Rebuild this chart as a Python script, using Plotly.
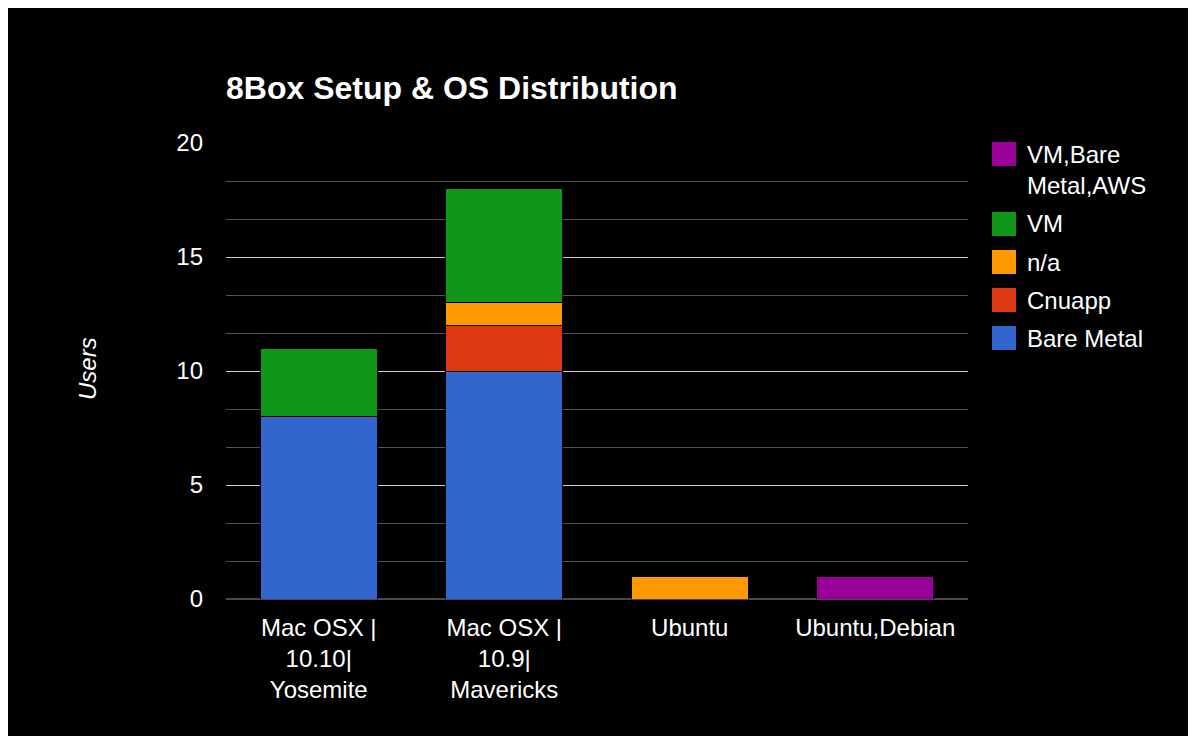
import plotly.graph_objects as go

categories = ["Mac OSX |<br>10.10|<br>Yosemite", "Mac OSX |<br>10.9|<br>Mavericks", "Ubuntu", "Ubuntu,Debian"]
series_names = ["Bare Metal", "Cnuapp", "n/a", "VM", "VM,Bare Metal,AWS"]
bare_metal = [8, 10, 0, 0]
cnuapp = [0, 2, 0, 0]
na = [0, 1, 1, 0]
vm = [3, 5, 0, 0]
vm_bm_aws = [0, 0, 0, 1]
colors = ["#3366cc", "#dc3912", "#ff9900", "#109618", "#990099"]
y_ticks = [0, 5, 10, 15, 20]

values = [bare_metal, cnuapp, na, vm, vm_bm_aws]
FONT = "Liberation Sans, Arial, sans-serif"

fig = go.Figure()
for name, vals, col in zip(series_names, values, colors):
    fig.add_trace(go.Bar(x=categories, y=vals, name=name,
                         marker=dict(color=col, line=dict(color="#000000", width=1)),
                         showlegend=False))

# page body has an 8px margin; figure sized so the page is 1196x744
OFF = 8
W, H = 1196 - 2 * OFF, 744 - 2 * OFF
PL, PR, PT, PB = 226, 968, 143, 599  # plot area in page pixels
L, R, T, B = PL - OFF, W - (PR - OFF), PT - OFF, H - (PB - OFF)
pw = PR - PL
ph = PB - PT


def px_x(xp):
    return (xp - PL) / pw


def px_y(yp):
    return 1 - (yp - PT) / ph


fig.update_layout(
    width=W, height=H,
    barmode="stack", bargap=0.37,
    paper_bgcolor="#000000", plot_bgcolor="#000000",
    margin=dict(l=L, r=R, t=T, b=B),
    font=dict(family=FONT, color="#ffffff", size=24),
    title=dict(text="<b>8Box Setup & OS Distribution</b>", x=(PL - OFF) / W, xanchor="left",
               xref="container", yref="container", y=1 - (88 - OFF) / H, yanchor="middle",
               font=dict(size=32, family=FONT, color="#ffffff")),
    xaxis=dict(showgrid=False, tickfont=dict(size=24, color="#ffffff"), ticks="",
               showline=False, ticklabelstandoff=12),
    yaxis=dict(range=[0, 20], tickvals=y_ticks, showgrid=True, gridcolor="#cccccc", gridwidth=1,
               zeroline=True, zerolinecolor="#4a4a4a", zerolinewidth=2,
               tickfont=dict(size=24, color="#ffffff"), ticks="", ticklabelstandoff=22,
               minor=dict(dtick=5 / 3, tick0=0, showgrid=True, gridcolor="#555555", gridwidth=1)),
    showlegend=False,
)

# y-axis title
fig.add_annotation(text="<i>Users</i>", xref="paper", yref="paper",
                   x=px_x(87), y=px_y(369), xanchor="center", yanchor="middle",
                   textangle=-90, showarrow=False,
                   font=dict(size=24, color="#ffffff", family=FONT))

# manual legend (reversed order like the reference)
leg_items = [
    ("VM,Bare<br>Metal,AWS", colors[4], 154, 170),
    ("VM", colors[3], 224, 224),
    ("n/a", colors[2], 262, 262),
    ("Cnuapp", colors[1], 300, 300),
    ("Bare Metal", colors[0], 338, 338),
]
for text, col, ysq, ytx in leg_items:
    fig.add_shape(type="rect", xref="paper", yref="paper",
                  x0=px_x(992), x1=px_x(1016),
                  y0=px_y(ysq + 12), y1=px_y(ysq - 12),
                  fillcolor=col, line=dict(width=0))
    fig.add_annotation(text=text, xref="paper", yref="paper",
                       x=px_x(1025), y=px_y(ytx),
                       xanchor="left", yanchor="middle", align="left", showarrow=False,
                       font=dict(size=24, color="#ffffff", family=FONT))

fig.write_html("out.html")
